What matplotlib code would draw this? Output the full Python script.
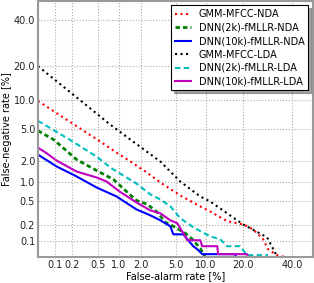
import numpy as np
import matplotlib
matplotlib.use('Agg')
import matplotlib.pyplot as plt
from statistics import NormalDist

# DET curves, rates in percent
gmm_nda_fa = [0.05,0.127,0.272,0.551,0.936,1.45,2.25,3.39,5.61,8.85,10.9,15.2,20.1,23.6,27.5,29.5,33.3,36.8]
gmm_nda_miss = [9.89,6.95,4.99,3.50,2.55,1.94,1.41,0.977,0.619,0.413,0.341,0.231,0.204,0.167,0.110,0.071,0.0543,0.05]

dnn2k_nda_fa = [0.05,0.0961,0.234,0.48,0.849,1.28,1.73,2.38,3.13,3.86,4.97,6.32,7.42,8.85,9.84]
dnn2k_nda_miss = [4.74,3.71,2.06,1.46,1.08,0.714,0.516,0.445,0.328,0.221,0.181,0.141,0.11,0.0742,0.05]

dnn10k_nda_fa = [0.05,0.108,0.234,0.48,0.936,1.73,2.58,3.39,4.39,4.73,6.03,6.62,7.59,8.29,9.24,17.5,17.9]
dnn10k_nda_miss = [2.4,1.66,1.2,0.822,0.597,0.368,0.292,0.24,0.188,0.135,0.135,0.11,0.081,0.071,0.0568,0.0568,0.05]

gmm_lda_fa = [0.05,0.77,1.45,3.39,5.61,8.85,10.9,20.1,29.1,32.4,33.3]
gmm_lda_miss = [20,5.54,3.71,1.94,1.01,0.597,0.497,0.204,0.119,0.0621,0.05]

dnn2k_lda_fa = [0.05,0.18,0.48,0.77,1.73,2.58,3.39,4.39,5.61,7.59,10.9,13.3,15.2,19.1,21.5,29.5]
dnn2k_lda_miss = [6.14,3.71,2.26,1.6,0.944,0.642,0.535,0.413,0.26,0.181,0.124,0.11,0.081,0.081,0.0543,0.0543]

dnn10k_lda_fa = [0.05,0.0693,0.108,0.234,0.48,0.675,1.03,1.73,2.58,3.39,4.39,5.22,5.61,6.32,6.62,8.85,9.24,12.6,12.8,21.5,21.8]
dnn10k_lda_miss = [2.95,2.55,2,1.41,1.16,1.01,0.714,0.479,0.354,0.316,0.24,0.213,0.174,0.124,0.105,0.105,0.081,0.081,0.0568,0.0568,0.05]

ticks = [0.1, 0.2, 0.5, 1, 2, 5, 10, 20, 40]
tick_labels = ['0.1', '0.2', '0.5', '1.0', '2.0', '5.0', '10.0', '20.0', '40.0']

nd = NormalDist()
_ppf = np.vectorize(lambda p: nd.inv_cdf(min(max(p / 100.0, 1e-9), 1 - 1e-9)), otypes=[float])
_cdf = np.vectorize(lambda z: 100.0 * nd.cdf(z), otypes=[float])

def fwd(v):
    return _ppf(np.asarray(v, dtype=float))

def inv(v):
    return _cdf(np.asarray(v, dtype=float))

plt.rcParams['font.family'] = 'DejaVu Sans'
fig = plt.figure(figsize=(3.14, 2.83), dpi=100)
ax = fig.add_axes([0.121, 0.092, 0.876, 0.906])

ax.plot(gmm_nda_fa, gmm_nda_miss, color='r', linestyle=':', linewidth=1.5, label='GMM-MFCC-NDA')
ax.plot(dnn2k_nda_fa, dnn2k_nda_miss, color='g', dashes=[1.6, 1.1], linewidth=2, label='DNN(2k)-fMLLR-NDA')
ax.plot(dnn10k_nda_fa, dnn10k_nda_miss, color='b', linestyle='-', linewidth=1.5, label='DNN(10k)-fMLLR-NDA')
ax.plot(gmm_lda_fa, gmm_lda_miss, color='k', linestyle=':', linewidth=1.5, label='GMM-MFCC-LDA')
ax.plot(dnn2k_lda_fa, dnn2k_lda_miss, color='c', dashes=[2.6, 1.6], linewidth=1.5, label='DNN(2k)-fMLLR-LDA')
ax.plot(dnn10k_lda_fa, dnn10k_lda_miss, color='m', linestyle='-', linewidth=1.5, label='DNN(10k)-fMLLR-LDA')

ax.set_xscale('function', functions=(fwd, inv))
ax.set_yscale('function', functions=(fwd, inv))
ax.set_xlim(0.05, 50)
ax.set_ylim(0.05, 50)
ax.set_xticks(ticks)
ax.set_xticklabels(tick_labels)
ax.set_yticks(ticks)
ax.set_yticklabels(tick_labels)
ax.minorticks_off()
ax.tick_params(labelsize=7, length=0, pad=2, colors='#222222')
ax.grid(True, linestyle=':', color='#aaaaaa', linewidth=0.8)

for s in ax.spines.values():
    s.set_color('#999999')
    s.set_linewidth(1.5)

ax.set_xlabel('False-alarm rate [%]', fontsize=7, labelpad=1)
ax.set_ylabel('False-negative rate [%]', fontsize=7, labelpad=1)

leg = ax.legend(loc='upper right', fontsize=7, fancybox=False, shadow=True,
                framealpha=1, edgecolor='k', handlelength=1.6, labelspacing=0.35,
                borderaxespad=0.5)
leg.get_frame().set_linewidth(0.8)

fig.savefig('out.png', dpi=100)
